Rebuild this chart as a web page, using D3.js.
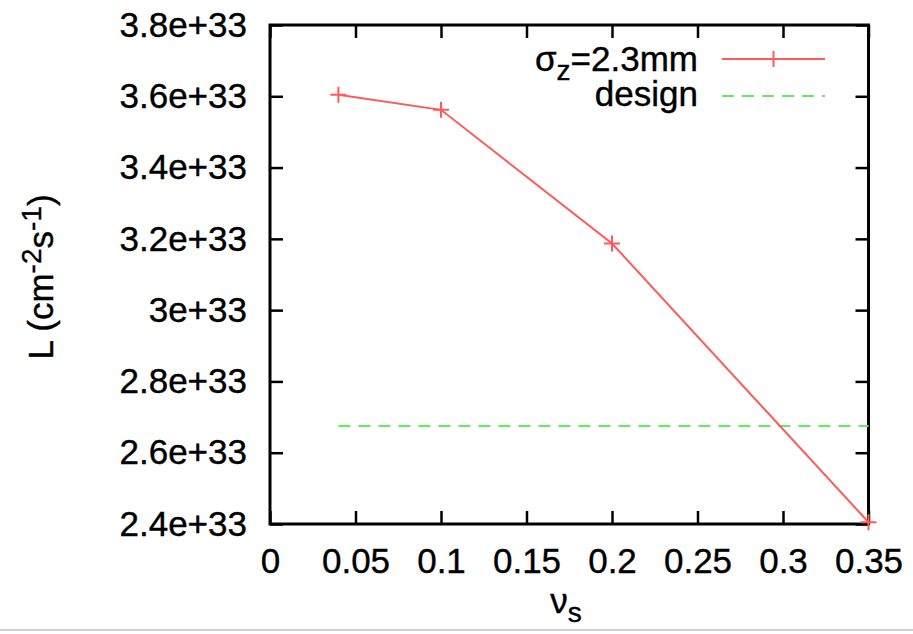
<!DOCTYPE html>
<html><head><meta charset="utf-8">
<script src="https://cdn.jsdelivr.net/npm/d3@7"></script>
<style>
html,body{margin:0;padding:0;background:#fff;}
text{font-family:"Liberation Sans",Arial,Helvetica,sans-serif;fill:#000;stroke:#000;stroke-width:0.4px;}
</style></head>
<body><svg id="c" width="913" height="634"></svg>
<script>
// Data
const nuS = [0.04, 0.1, 0.2, 0.35];
const lumi = [3.604e33, 3.562e33, 3.187e33, 2.405e33];
const designX = [0.04, 0.35];
const designL = [2.675e33, 2.675e33];
const xTicks = [0, 0.05, 0.1, 0.15, 0.2, 0.25, 0.3, 0.35];
const xTickLabels = ["0", "0.05", "0.1", "0.15", "0.2", "0.25", "0.3", "0.35"];
const yTicks = [2.4e33, 2.6e33, 2.8e33, 3.0e33, 3.2e33, 3.4e33, 3.6e33, 3.8e33];
const yTickLabels = ["2.4e+33", "2.6e+33", "2.8e+33", "3e+33", "3.2e+33", "3.4e+33", "3.6e+33", "3.8e+33"];
const seriesNames = ["2.3mm", "design"];

const svg = d3.select("#c");
const L = 270, R = 868.5, T = 25, B = 524;
const x = d3.scaleLinear().domain([0, 0.35]).range([L, R]);
const y = d3.scaleLinear().domain([2.4e33, 3.8e33]).range([B, T]);
const fs = 35, tick = 13;
const red = "#ff5a5a", green = "#5cf05c";

// light gray line at bottom
svg.append("line").attr("x1", 0).attr("x2", 913).attr("y1", 630).attr("y2", 630)
  .attr("stroke", "#d0d0d0").attr("stroke-width", 2);

// Axes
const xa = svg.append("g").attr("transform", `translate(0,${B})`)
  .call(d3.axisBottom(x).tickValues(xTicks).tickFormat((d, i) => xTickLabels[i])
    .tickSizeInner(-tick).tickSizeOuter(0).tickPadding(24));
const xt = svg.append("g").attr("transform", `translate(0,${T})`)
  .call(d3.axisTop(x).tickValues(xTicks).tickFormat("").tickSizeInner(-tick).tickSizeOuter(0));
const ya = svg.append("g").attr("transform", `translate(${L},0)`)
  .call(d3.axisLeft(y).tickValues(yTicks).tickFormat((d, i) => yTickLabels[i])
    .tickSizeInner(-tick).tickSizeOuter(0).tickPadding(23));
const yr = svg.append("g").attr("transform", `translate(${R},0)`)
  .call(d3.axisRight(y).tickValues(yTicks).tickFormat("").tickSizeInner(-tick).tickSizeOuter(0));
[xa, xt, ya, yr].forEach(g => {
  g.select(".domain").remove();
  g.selectAll(".tick line").attr("stroke", "#000").attr("stroke-width", 2.5);
  g.selectAll("text").attr("font-size", fs).attr("font-family", "Liberation Sans, Arial, sans-serif")
    .attr("fill", "#000").attr("stroke", "#000").attr("stroke-width", 0.4);
});
// frame
svg.append("rect").attr("x", L).attr("y", T).attr("width", R - L).attr("height", B - T)
  .attr("fill", "none").attr("stroke", "#000").attr("stroke-width", 3);

// design line
const line = d3.line().x(d => x(d[0])).y(d => y(d[1]));
svg.append("path").datum(designX.map((v, i) => [v, designL[i]]))
  .attr("d", line).attr("fill", "none").attr("stroke", green).attr("stroke-width", 2)
  .attr("stroke-dasharray", "12,8");

// main series
const pts = nuS.map((v, i) => [v, lumi[i]]);
svg.append("path").datum(pts).attr("d", line).attr("fill", "none")
  .attr("stroke", red).attr("stroke-width", 2);
const ms = 8;
svg.selectAll(".pt").data(pts).enter().append("path").attr("class", "pt")
  .attr("d", d => `M${x(d[0]) - ms},${y(d[1])}H${x(d[0]) + ms}M${x(d[0])},${y(d[1]) - ms}V${y(d[1]) + ms}`)
  .attr("stroke", red).attr("stroke-width", 2).attr("fill", "none");

// Legend
const lgX = 698, lgL1 = 722, lgL2 = 825;
const t1 = svg.append("text").attr("x", lgX).attr("y", 71).attr("text-anchor", "end").attr("font-size", fs);
t1.append("tspan").text("σ");
t1.append("tspan").attr("font-size", fs * 0.8).attr("dy", 9).text("z");
t1.append("tspan").attr("dy", -9).text("=" + seriesNames[0]);
svg.append("line").attr("x1", lgL1).attr("x2", lgL2).attr("y1", 59).attr("y2", 59)
  .attr("stroke", red).attr("stroke-width", 2);
const mx = (lgL1 + lgL2) / 2;
svg.append("path").attr("d", `M${mx - ms},59H${mx + ms}M${mx},${59 - ms}V${59 + ms}`)
  .attr("stroke", red).attr("stroke-width", 2);
svg.append("text").attr("x", lgX).attr("y", 106).attr("text-anchor", "end").attr("font-size", fs).text(seriesNames[1]);
svg.append("line").attr("x1", lgL1).attr("x2", lgL2).attr("y1", 96).attr("y2", 96)
  .attr("stroke", green).attr("stroke-width", 2).attr("stroke-dasharray", "12,8");

// Axis titles
const xtT = svg.append("text").attr("x", 566).attr("y", 613).attr("text-anchor", "middle").attr("font-size", fs);
xtT.append("tspan").text("ν");
xtT.append("tspan").attr("font-size", fs * 0.8).attr("dy", 9).text("s");

const ytT = svg.append("text").attr("transform", "translate(53,277) rotate(-90)")
  .attr("text-anchor", "middle").attr("font-size", fs);
ytT.append("tspan").text("L (cm");
ytT.append("tspan").attr("font-size", fs * 0.8).attr("dy", -12).text("-2");
ytT.append("tspan").attr("dy", 12).text("s");
ytT.append("tspan").attr("font-size", fs * 0.8).attr("dy", -12).text("-1");
ytT.append("tspan").attr("dy", 12).text(")");
</script></body></html>
